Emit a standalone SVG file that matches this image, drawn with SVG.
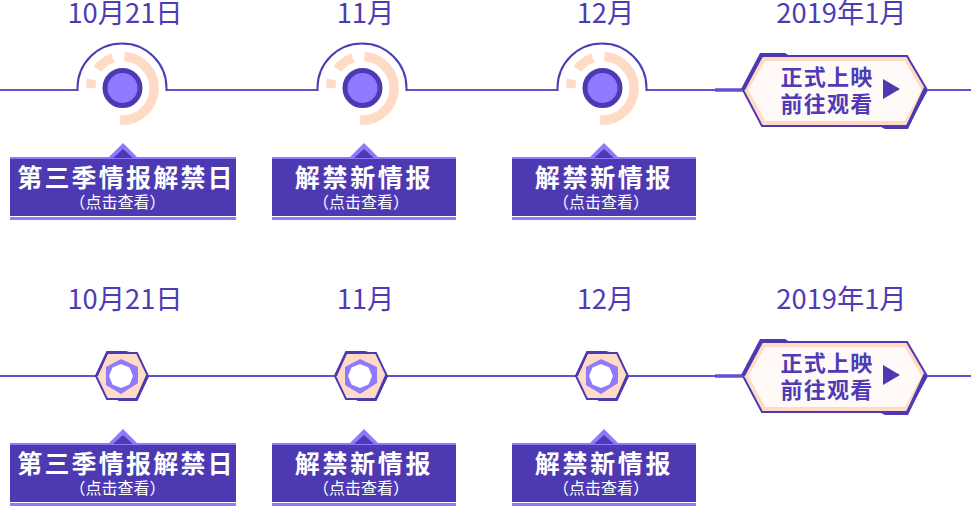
<svg xmlns="http://www.w3.org/2000/svg" width="971" height="506" viewBox="0 0 971 506">
<style>
text{font-family:"Noto Sans CJK SC","Noto Sans",sans-serif;text-anchor:middle}
.date{font-size:27.3px;fill:#4f3bb5}
.t{font-size:25px;font-weight:700;fill:#fff;letter-spacing:2.2px}
.t5{font-size:25px;font-weight:700;fill:#fff;letter-spacing:2.7px}
.s{font-size:16px;fill:#fff}
.b{font-size:22px;font-weight:700;fill:#4f3bb5;letter-spacing:1.300px}
.line{fill:none;stroke:#4f3bb5;stroke-width:2}
.lineL{fill:none;stroke:#6350d0;stroke-width:2}
.d{fill:#4d3ab3}.l{fill:#8f7aff}
.ring{fill:none;stroke:#ffdac4;stroke-width:9.500}
</style>
<defs>
<g id="arcNode">
<path class="line" d="M-45 3V0A44.500 44.500 0 0 1 44 0V3"/>
<path class="ring" d="M2 -31.500A31.500 31.500 0 1 1 -2.500 32"/>
<path class="ring" d="M-9.500 -30A31.500 31.500 0 0 0 -25 -19"/>
<path class="ring" d="M-31 -8.500A31.500 31.500 0 0 0 -31.500 0"/>
<circle r="17.500" fill="#8f7aff" stroke="#4d3ab3" stroke-width="5"/>
</g>
<g id="hexNode">
<path d="M-26 0L-15 -23H15L26 0L15 23H-15Z" fill="#ffdac4" stroke="#4d3ab3" stroke-width="2"/>
<path class="d" d="M-27 0L-15.500 -25H4L9 -23.500H-13.500L-24 0ZM27 0L15.500 25H-3L-7 23H13.500L24.500 -2Z"/>
<path class="l" d="M-1 -17L16 -9V7L-1 18L-16 9V-9Z"/>
<path fill="#fff" d="M-1 -12L7.500 -8.500L11 0L7.500 8.500L-1 12L-9.500 8.500L-13 0L-9.500 -8.500Z"/>
</g>
<g id="label">
<path class="l" d="M-15 1L0 -14L15 1Z"/>
<path class="d" d="M-10 1L0 -8L10 1Z"/>
</g>
<g id="cta">
<path d="M-1 0L18 -34H165L185 0L165 36H18Z" fill="#fffaf7"/>
<path d="M3 0L21 -31H163L181 0L163 33H21Z" fill="none" stroke="#ffdac4" stroke-width="4"/>
<path d="M0 0L19 -34H164L184 0L164 36H19Z" fill="none" stroke="#4d3ab3" stroke-width="2"/>
<path class="d" d="M-2 -1L17 -37H42L47 -34H20L2 0ZM184 0L165 39H142L136 36H163L181 -3L185 1Z"/>
<path class="d" d="M140 -11L157 -1L140 9Z"/>
</g>
</defs>
<g id="connectors">
<path class="lineL" d="M0 90H78M167 90H318M407 90H558M647 90H715M927 90H971"/>
<path d="M715 90H743" stroke="#6350d0" stroke-width="3.500" fill="none"/>
<path class="lineL" d="M0 376H97M148 376H335M387 376H577M628 376H715M927 376H971"/>
<path d="M715 376H743" stroke="#6350d0" stroke-width="3.500" fill="none"/>
</g>
<g id="n1"><text class="date" x="125" y="22.500">10月21日</text><use href="#arcNode" x="122.500" y="88"/></g>
<g id="n2"><text class="date" x="365.500" y="22.500">11月</text><use href="#arcNode" x="362.500" y="88"/></g>
<g id="n3"><text class="date" x="605.500" y="22.500">12月</text><use href="#arcNode" x="602.500" y="88"/></g>
<g id="n4"><text class="date" x="841.500" y="22.500">2019年1月</text><use href="#cta" x="743" y="90"/><text class="b" x="827" y="85">正式上映</text><text class="b" x="827" y="112">前往观看</text></g>
<g id="l1"><rect class="d" x="10" y="157" width="226" height="59"/><rect class="l" x="10" y="157" width="226" height="2"/><rect class="l" x="10" y="217" width="226" height="3"/><use href="#label" x="123" y="157"/><text class="t" x="126" y="187">第三季情报解禁日</text><text class="s" x="117.500" y="208">（点击查看）</text></g>
<g id="l2"><rect class="d" x="272" y="157" width="184" height="59"/><rect class="l" x="272" y="157" width="184" height="2"/><rect class="l" x="272" y="217" width="184" height="3"/><use href="#label" x="364" y="157"/><text class="t5" x="364" y="187">解禁新情报</text><text class="s" x="361" y="208">（点击查看）</text></g>
<g id="l3"><rect class="d" x="512" y="157" width="184" height="59"/><rect class="l" x="512" y="157" width="184" height="2"/><rect class="l" x="512" y="217" width="184" height="3"/><use href="#label" x="604" y="157"/><text class="t5" x="604" y="187">解禁新情报</text><text class="s" x="601" y="208">（点击查看）</text></g>
<g id="n5"><text class="date" x="125" y="308.500">10月21日</text><use href="#hexNode" x="122" y="376"/></g>
<g id="n6"><text class="date" x="365.500" y="308.500">11月</text><use href="#hexNode" x="361" y="376"/></g>
<g id="n7"><text class="date" x="605.500" y="308.500">12月</text><use href="#hexNode" x="602" y="376"/></g>
<g id="n8"><text class="date" x="841.500" y="308.500">2019年1月</text><use href="#cta" x="743" y="376"/><text class="b" x="827" y="371">正式上映</text><text class="b" x="827" y="398">前往观看</text></g>
<g id="l4"><rect class="d" x="10" y="443" width="226" height="59"/><rect class="l" x="10" y="443" width="226" height="2"/><rect class="l" x="10" y="503" width="226" height="3"/><use href="#label" x="123" y="443"/><text class="t" x="126" y="473">第三季情报解禁日</text><text class="s" x="117.500" y="494">（点击查看）</text></g>
<g id="l5"><rect class="d" x="272" y="443" width="184" height="59"/><rect class="l" x="272" y="443" width="184" height="2"/><rect class="l" x="272" y="503" width="184" height="3"/><use href="#label" x="364" y="443"/><text class="t5" x="364" y="473">解禁新情报</text><text class="s" x="361" y="494">（点击查看）</text></g>
<g id="l6"><rect class="d" x="512" y="443" width="184" height="59"/><rect class="l" x="512" y="443" width="184" height="2"/><rect class="l" x="512" y="503" width="184" height="3"/><use href="#label" x="604" y="443"/><text class="t5" x="604" y="473">解禁新情报</text><text class="s" x="601" y="494">（点击查看）</text></g>
</svg>
